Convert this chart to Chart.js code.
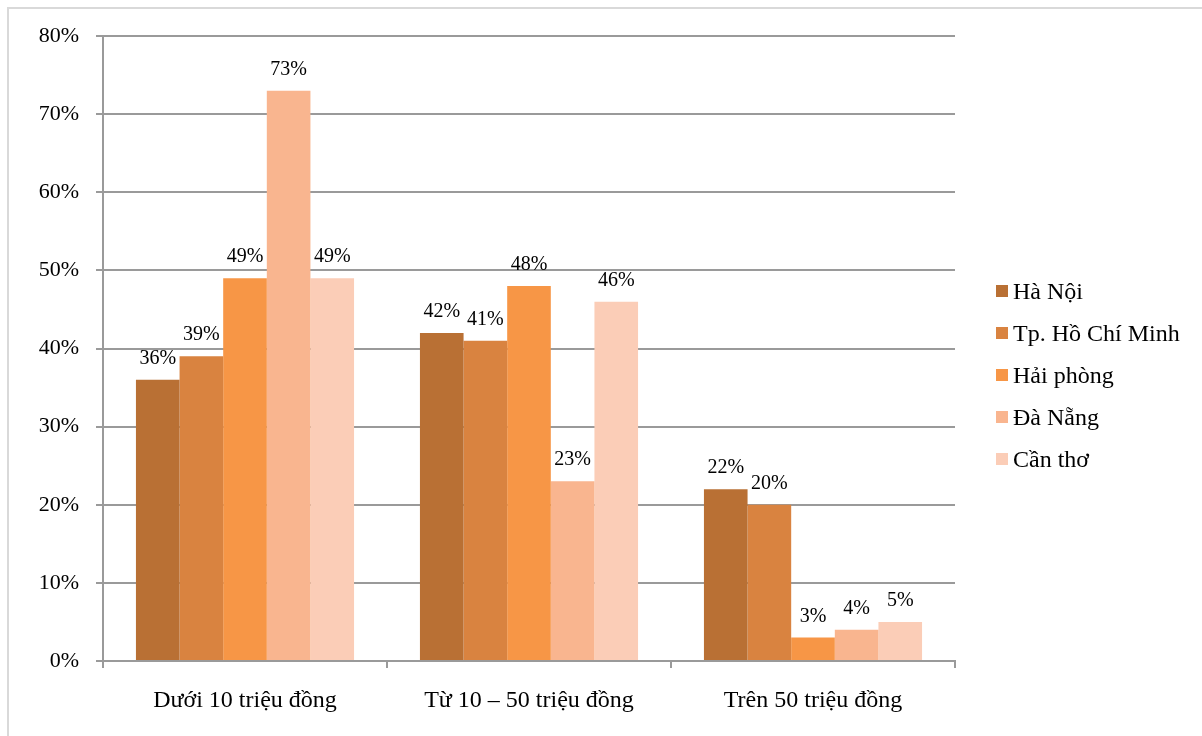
<!DOCTYPE html>
<html lang="vi">
<head>
<meta charset="utf-8">
<title>Thu nhập theo thành phố</title>
<script src="https://cdn.jsdelivr.net/npm/chart.js@4"></script>
<style>
    html, body { margin: 0; padding: 0; background: #fff; }
    #wrap { position: relative; width: 1202px; height: 736px; overflow: hidden; }
    #frame {
        position: absolute; left: 7px; top: 7px;
        width: 1220px; height: 760px;
        border: 2px solid #d9d9d9;
    }
    #chart { position: absolute; left: 0; top: 0; }
    #legend {
        position: absolute; left: 996px; top: 270px;
        font-family: "Liberation Serif", "Times New Roman", serif;
        font-size: 24px; color: #000;
    }
    #legend .item { height: 42px; display: flex; align-items: center; white-space: nowrap; }
    #legend .box { width: 12px; height: 12px; margin-right: 5px; flex: none; }
</style>
</head>
<body>
<div id="wrap">
    <div id="frame"></div>
    <canvas id="chart" width="1202" height="736"></canvas>
    <div id="legend"></div>
</div>
<script>
// ---------- DATA ----------
const categories = ["Dưới 10 triệu đồng", "Từ 10 – 50 triệu đồng", "Trên 50 triệu đồng"];
const cities = ["Hà Nội", "Tp. Hồ Chí Minh", "Hải phòng", "Đà Nẵng", "Cần thơ"];
const haNoi    = [36, 42, 22];
const hoChiMinh = [39, 41, 20];
const haiPhong = [49, 48, 3];
const daNang   = [73, 23, 4];
const canTho   = [49, 46, 5];
const yTicks = [0, 10, 20, 30, 40, 50, 60, 70, 80];

const colors = ["#b97034", "#d98340", "#f79646", "#f9b58f", "#fbcdb7"];
const FONT = '"Liberation Serif", "Times New Roman", serif';
const GRID = "#9a9a9a";

// ---------- VALUE LABELS ABOVE BARS ----------
const valueLabels = {
    id: "valueLabels",
    afterDatasetsDraw(chart) {
        const ctx = chart.ctx;
        ctx.save();
        ctx.font = "20px " + FONT;
        ctx.fillStyle = "#000";
        ctx.textAlign = "center";
        ctx.textBaseline = "alphabetic";
        chart.data.datasets.forEach((ds, i) => {
            chart.getDatasetMeta(i).data.forEach((bar, j) => {
                ctx.fillText(ds.data[j] + "%", bar.x, bar.y - 16);
            });
        });
        ctx.restore();
    }
};

const series = [haNoi, hoChiMinh, haiPhong, daNang, canTho];

const chart = new Chart(document.getElementById("chart"), {
    type: "bar",
    data: {
        labels: categories,
        datasets: series.map((vals, i) => ({
            label: cities[i],
            data: vals,
            backgroundColor: colors[i],
            barPercentage: 1,
            categoryPercentage: 0.768
        }))
    },
    options: {
        responsive: false,
        animation: false,
        layout: { padding: { left: 0, top: 36, right: 247, bottom: 0 } },
        plugins: {
            legend: { display: false },
            tooltip: { enabled: false }
        },
        scales: {
            x: {
                afterFit: s => { s.height = 75; },
                grid: {
                    offset: true,
                    drawOnChartArea: false,
                    drawTicks: true,
                    tickLength: 7,
                    color: GRID,
                    lineWidth: 2
                },
                border: { color: GRID, width: 2 },
                ticks: {
                    padding: 18,
                    color: "#000",
                    font: { family: FONT, size: 24 }
                }
            },
            y: {
                min: 0,
                max: 80,
                afterFit: s => { s.width = 103; },
                afterBuildTicks: s => { s.ticks = yTicks.map(v => ({ value: v })); },
                grid: { color: GRID, lineWidth: 2, tickLength: 7 },
                border: { color: GRID, width: 2 },
                ticks: {
                    padding: 17,
                    color: "#000",
                    font: { family: FONT, size: 22 },
                    callback: v => v + "%"
                }
            }
        }
    },
    plugins: [valueLabels]
});

// ---------- LEGEND ----------
const legend = document.getElementById("legend");
cities.forEach((name, i) => {
    const item = document.createElement("div");
    item.className = "item";
    item.innerHTML = '<span class="box" style="background:' + colors[i] + '"></span><span>' + name + "</span>";
    legend.appendChild(item);
});
</script>
</body>
</html>
